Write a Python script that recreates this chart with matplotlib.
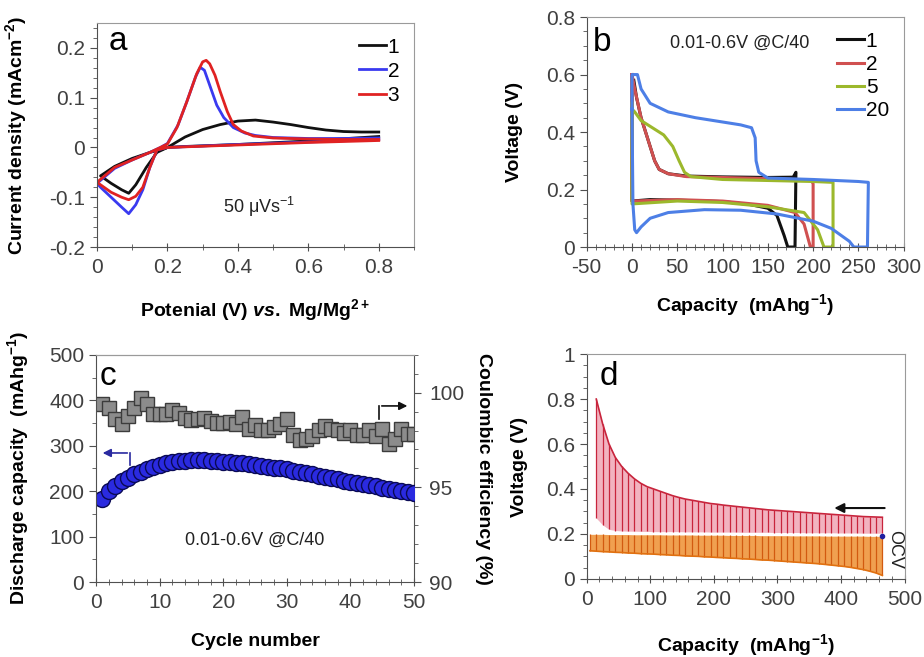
import matplotlib
matplotlib.use("Agg")
import matplotlib.pyplot as plt
from matplotlib.ticker import MultipleLocator

plt.rcParams["font.family"] = ["Liberation Sans", "DejaVu Sans"]
plt.rcParams["axes.unicode_minus"] = False
plt.rcParams["mathtext.fontset"] = "custom"
plt.rcParams["mathtext.rm"] = "Liberation Sans:bold"
plt.rcParams["mathtext.it"] = "Liberation Sans:italic:bold"
plt.rcParams["mathtext.bf"] = "Liberation Sans:bold"
plt.rcParams["mathtext.default"] = "regular"

# ---- panel a : cyclic voltammetry (cathodic sweep 0.8 -> 0, then anodic 0 -> 0.8)
cv1_v = [0.80, 0.60, 0.40, 0.25, 0.20, 0.17, 0.14, 0.11, 0.09, 0.07, 0.04, 0.01,
         0.05, 0.10, 0.15, 0.20, 0.25, 0.30, 0.35, 0.40, 0.45, 0.50, 0.55, 0.60, 0.65, 0.70, 0.75, 0.80]
cv1_i = [0.022, 0.013, 0.006, 0.002, 0.000, -0.010, -0.040, -0.075, -0.092, -0.085, -0.072, -0.057,
         -0.038, -0.022, -0.010, 0.000, 0.021, 0.036, 0.046, 0.053, 0.055, 0.051, 0.046, 0.040, 0.035, 0.032, 0.031, 0.031]
cv2_v = [0.80, 0.60, 0.40, 0.20, 0.17, 0.15, 0.13, 0.11, 0.09, 0.07, 0.04, 0.01, 0.00,
         0.05, 0.10, 0.15, 0.18, 0.20, 0.23, 0.255, 0.28, 0.293, 0.305, 0.32, 0.34, 0.36, 0.387, 0.42, 0.45, 0.50, 0.60, 0.70, 0.80]
cv2_i = [0.016, 0.011, 0.006, 0.000, -0.005, -0.040, -0.085, -0.115, -0.133, -0.120, -0.100, -0.080, -0.072,
         -0.042, -0.025, -0.010, 0.000, 0.008, 0.045, 0.092, 0.142, 0.161, 0.155, 0.125, 0.085, 0.060, 0.040, 0.029, 0.024, 0.020, 0.018, 0.018, 0.019]
cv3_v = [0.80, 0.60, 0.40, 0.20, 0.17, 0.15, 0.13, 0.11, 0.09, 0.07, 0.04, 0.01, 0.00,
         0.05, 0.10, 0.15, 0.18, 0.20, 0.227, 0.255, 0.283, 0.30, 0.31, 0.32, 0.335, 0.35, 0.37, 0.387, 0.41, 0.444, 0.50, 0.60, 0.70, 0.80]
cv3_i = [0.014, 0.010, 0.005, 0.000, -0.005, -0.040, -0.080, -0.098, -0.105, -0.100, -0.090, -0.075, -0.070,
         -0.040, -0.025, -0.010, 0.000, 0.007, 0.040, 0.092, 0.148, 0.172, 0.175, 0.168, 0.145, 0.112, 0.072, 0.046, 0.033, 0.023, 0.019, 0.017, 0.016, 0.016]

# ---- panel b : voltage profiles, cycles 1, 2, 5, 20
gc1_q = [0, 0, 20, 50, 100, 130, 150, 160, 168, 172, 180, 181, 178, 150, 100, 60, 40, 30, 25, 20, 10, 5, 2]
gc1_v = [0.60, 0.16, 0.165, 0.163, 0.158, 0.148, 0.135, 0.11, 0.04, 0.0, 0.0, 0.26, 0.243, 0.242, 0.244, 0.247, 0.255, 0.27, 0.30, 0.35, 0.45, 0.52, 0.58]
gc2_q = [0, 0, 50, 100, 150, 180, 190, 197, 200, 200, 198, 150, 60, 40, 30, 25, 20, 10, 3, 0]
gc2_v = [0.60, 0.16, 0.165, 0.16, 0.145, 0.12, 0.08, 0.0, 0.0, 0.22, 0.233, 0.238, 0.245, 0.255, 0.27, 0.30, 0.35, 0.45, 0.55, 0.60]
gc5_q = [0, 0, 50, 100, 150, 190, 205, 212, 222, 222, 200, 100, 65, 58, 52, 45, 35, 20, 10, 3, 0]
gc5_v = [0.50, 0.15, 0.16, 0.155, 0.14, 0.12, 0.06, 0.0, 0.0, 0.225, 0.228, 0.235, 0.245, 0.26, 0.30, 0.35, 0.39, 0.42, 0.44, 0.47, 0.48]
gc20_q = [0, 1, 3, 5, 10, 20, 40, 80, 120, 160, 200, 220, 240, 245, 260, 261, 250, 200, 150, 140, 137, 136, 132, 120, 100, 70, 40, 20, 10, 6, 0, 0]
gc20_v = [0.48, 0.15, 0.06, 0.05, 0.07, 0.10, 0.12, 0.13, 0.128, 0.115, 0.09, 0.065, 0.02, 0.0, 0.0, 0.225, 0.228, 0.235, 0.24, 0.26, 0.30, 0.38, 0.415, 0.425, 0.435, 0.45, 0.47, 0.50, 0.55, 0.60, 0.60, 0.48]

# ---- panel c : cycling
cycles = list(range(1, 51))
dis_cap = [183, 200, 212, 222, 230, 237, 243, 249, 254, 258, 261, 264, 266, 267, 268, 268, 268, 267, 266, 265,
           264, 263, 262, 260, 258, 256, 254, 252, 250, 248, 245, 243, 240, 237, 234, 231, 228, 226, 223, 221,
           218, 216, 213, 211, 208, 205, 203, 200, 198, 196]
ce = [99.38, 99.17, 98.60, 98.37, 98.76, 99.17, 99.70, 99.38, 98.85, 98.85, 98.90, 99.08, 98.95, 98.65, 98.56,
      98.60, 98.67, 98.49, 98.42, 98.42, 98.46, 98.37, 98.72, 98.10, 98.28, 98.01, 98.01, 98.19, 98.37, 98.60,
      97.75, 97.48, 97.57, 97.71, 98.01, 98.24, 98.10, 98.01, 97.89, 98.01, 97.75, 97.78, 98.01, 97.71, 98.06,
      97.30, 97.57, 98.06, 97.84, 97.84]

# ---- panel d : GITT steps
chg_q = [15, 25, 35, 45, 55, 65, 75, 85, 95, 105, 115, 125, 135, 145, 155, 165, 175, 185, 195, 205, 215, 225,
         235, 245, 255, 265, 275, 285, 295, 305, 315, 325, 335, 345, 355, 365, 375, 385, 395, 405, 415, 425,
         435, 445, 455, 465]
chg_top = [0.80, 0.69, 0.60, 0.54, 0.50, 0.47, 0.445, 0.425, 0.41, 0.40, 0.39, 0.38, 0.37, 0.362, 0.355, 0.35,
           0.345, 0.34, 0.335, 0.332, 0.328, 0.325, 0.322, 0.319, 0.316, 0.313, 0.31, 0.307, 0.305, 0.303, 0.301,
           0.299, 0.297, 0.295, 0.293, 0.291, 0.289, 0.287, 0.285, 0.283, 0.281, 0.279, 0.277, 0.276, 0.275, 0.274]
chg_bot = [0.27, 0.24, 0.22, 0.215, 0.213, 0.212, 0.212, 0.211, 0.211, 0.210, 0.210, 0.210, 0.210, 0.210, 0.209,
           0.209, 0.209, 0.209, 0.208, 0.208, 0.208, 0.208, 0.208, 0.207, 0.207, 0.207, 0.207, 0.207, 0.206, 0.206,
           0.206, 0.206, 0.206, 0.205, 0.205, 0.205, 0.205, 0.205, 0.204, 0.204, 0.204, 0.204, 0.203, 0.203, 0.203, 0.203]
dis_q = [5, 15, 25, 35, 45, 55, 65, 75, 85, 95, 105, 115, 125, 135, 145, 155, 165, 175, 185, 195, 205, 215, 225,
         235, 245, 255, 265, 275, 285, 295, 305, 315, 325, 335, 345, 355, 365, 375, 385, 395, 405, 415, 425, 435,
         445, 455, 465]
dis_top = [0.198, 0.198, 0.198, 0.197, 0.197, 0.197, 0.197, 0.196, 0.196, 0.196, 0.196, 0.196, 0.195, 0.195,
           0.195, 0.195, 0.195, 0.194, 0.194, 0.194, 0.194, 0.194, 0.193, 0.193, 0.193, 0.193, 0.193, 0.192, 0.192,
           0.192, 0.192, 0.192, 0.191, 0.191, 0.191, 0.191, 0.191, 0.190, 0.190, 0.190, 0.190, 0.190, 0.190, 0.190,
           0.189, 0.189, 0.189]
dis_bot = [0.125, 0.123, 0.121, 0.120, 0.118, 0.117, 0.115, 0.114, 0.112, 0.111, 0.110, 0.108, 0.107, 0.105,
           0.104, 0.102, 0.101, 0.100, 0.098, 0.097, 0.095, 0.094, 0.092, 0.091, 0.089, 0.088, 0.086, 0.084, 0.083,
           0.081, 0.079, 0.077, 0.075, 0.073, 0.071, 0.069, 0.067, 0.064, 0.061, 0.058, 0.055, 0.051, 0.046, 0.041,
           0.034, 0.026, 0.015]

TICK_COLOR = "#404040"
TICK_SIZE = 15
LABEL_SIZE = 14


def style_axes(ax):
    for s in ["top", "right"]:
        ax.spines[s].set_color("#9a9a9a")
    for s in ["left", "bottom"]:
        ax.spines[s].set_color("#505050")
    ax.tick_params(axis="x", which="both", direction="inout", colors="#505050", labelcolor=TICK_COLOR,
                   labelsize=TICK_SIZE, top=False)
    ax.tick_params(axis="x", which="major", length=6, pad=5)
    ax.tick_params(axis="x", which="minor", length=4)
    ax.tick_params(axis="y", which="both", direction="out", colors="#505050", labelcolor=TICK_COLOR,
                   labelsize=TICK_SIZE, right=False)
    ax.tick_params(axis="y", which="major", length=5)
    ax.tick_params(axis="y", which="minor", length=3)


fig = plt.figure(figsize=(9.24, 6.57), dpi=100)

# ---------------- a
ax = fig.add_axes([0.105, 0.624, 0.343, 0.341])
ax.plot(cv1_v, cv1_i, color="#111111", lw=2, label="1")
ax.plot(cv2_v, cv2_i, color="#3a3af0", lw=2, label="2")
ax.plot(cv3_v, cv3_i, color="#e02222", lw=2, label="3")
ax.set_xlim(0, 0.9)
ax.set_ylim(-0.2, 0.25)
ax.set_xticks([0, 0.2, 0.4, 0.6, 0.8])
ax.set_xticklabels(["0", "0.2", "0.4", "0.6", "0.8"])
ax.xaxis.set_minor_locator(MultipleLocator(0.1))
ax.set_yticks([-0.2, -0.1, 0, 0.1, 0.2])
ax.set_yticklabels(["-0.2", "-0.1", "0", "0.1", "0.2"])
ax.yaxis.set_minor_locator(MultipleLocator(0.02))
style_axes(ax)
ax.set_xlabel("Potenial (V) $\\mathit{vs.}$ Mg/Mg$^{2+}$", fontsize=LABEL_SIZE, fontweight="bold")
ax.xaxis.set_label_coords(0.5, -0.225)
ax.set_ylabel("Current density (mAcm$^{-2}$)", fontsize=LABEL_SIZE, fontweight="bold")
ax.yaxis.set_label_coords(-0.215, 0.5)
ax.text(0.06, 0.212, "a", fontsize=24, va="center", ha="center")
ax.text(0.46, -0.12, "50 μVs$^{-1}$", fontsize=13, va="center", ha="center", color="#222222")
ax.legend(loc="upper right", frameon=False, fontsize=TICK_SIZE, handlelength=1.3, handletextpad=0.1,
          labelspacing=0.25, borderaxespad=0.3)

# ---------------- b
ax = fig.add_axes([0.635, 0.624, 0.343, 0.350])
ax.plot(gc1_q, gc1_v, color="#111111", lw=2.2, label="1")
ax.plot(gc2_q, gc2_v, color="#d05050", lw=2.2, label="2")
ax.plot(gc5_q, gc5_v, color="#9cb82c", lw=2.2, label="5")
ax.plot(gc20_q, gc20_v, color="#4d7fe6", lw=2.2, label="20")
ax.set_xlim(-50, 300)
ax.set_ylim(0, 0.8)
ax.set_xticks([-50, 0, 50, 100, 150, 200, 250, 300])
ax.xaxis.set_minor_locator(MultipleLocator(10))
ax.set_yticks([0, 0.2, 0.4, 0.6, 0.8])
ax.set_yticklabels(["0", "0.2", "0.4", "0.6", "0.8"])
ax.yaxis.set_minor_locator(MultipleLocator(0.05))
style_axes(ax)
ax.set_xlabel("Capacity  (mAhg$^{-1}$)", fontsize=LABEL_SIZE, fontweight="bold")
ax.xaxis.set_label_coords(0.5, -0.195)
ax.set_ylabel("Voltage (V)", fontsize=LABEL_SIZE, fontweight="bold")
ax.yaxis.set_label_coords(-0.20, 0.5)
ax.text(-33, 0.71, "b", fontsize=24, va="center", ha="center")
ax.text(119, 0.71, "0.01-0.6V @C/40", fontsize=13, va="center", ha="center", color="#222222")
ax.legend(loc="upper right", frameon=False, fontsize=TICK_SIZE, handlelength=1.3, handletextpad=0.1,
          labelspacing=0.2, borderaxespad=0.3, bbox_to_anchor=(1.0, 1.0))

# ---------------- c
ax = fig.add_axes([0.104, 0.114, 0.344, 0.346])
ax2 = ax.twinx()
ax.set_zorder(ax2.get_zorder() + 1)
ax.patch.set_visible(False)
ax2.plot(cycles, ce, ls="none", marker="s", ms=10, mfc="#8c8c8c", mec="#3c3c3c", mew=1)
ax.plot(cycles, dis_cap, ls="none", marker="o", ms=11.5, mfc="#2a2ae0", mec="#0a0a55", mew=1)
ax.set_xlim(0, 50)
ax.set_ylim(0, 500)
ax2.set_ylim(90, 102)
ax.set_xticks([0, 10, 20, 30, 40, 50])
ax.xaxis.set_minor_locator(MultipleLocator(2))
ax.set_yticks([0, 100, 200, 300, 400, 500])
ax.yaxis.set_minor_locator(MultipleLocator(50))
ax2.set_yticks([90, 95, 100])
ax2.yaxis.set_minor_locator(MultipleLocator(1))
style_axes(ax)
ax.spines["right"].set_visible(False)
ax2.spines["right"].set_color("#505050")
ax2.spines["top"].set_color("#9a9a9a")
for s in ["left", "bottom"]:
    ax2.spines[s].set_visible(False)
ax2.tick_params(axis="y", which="both", direction="out", colors="#505050", labelcolor=TICK_COLOR,
                labelsize=TICK_SIZE)
ax2.tick_params(axis="y", which="major", length=5, pad=6)
ax2.tick_params(axis="y", which="minor", length=3)
ax.set_xlabel("Cycle number", fontsize=LABEL_SIZE, fontweight="bold")
ax.xaxis.set_label_coords(0.5, -0.225)
ax.set_ylabel("Discharge capacity  (mAhg$^{-1}$)", fontsize=LABEL_SIZE, fontweight="bold")
ax.yaxis.set_label_coords(-0.204, 0.5)
ax2.set_ylabel("Coulombic efficiency (%)", fontsize=LABEL_SIZE, fontweight="bold", rotation=-90)
ax2.yaxis.set_label_coords(1.245, 0.5)
ax.text(1.9, 452, "c", fontsize=24, va="center", ha="center")
ax.text(25, 93, "0.01-0.6V @C/40", fontsize=13, va="center", ha="center", color="#222222")
ax.annotate("", xy=(0.6, 284), xytext=(5.35, 284),
            arrowprops=dict(arrowstyle="-|>", color="#2a2aa0", lw=1.2, mutation_scale=12))
ax.plot([5.35, 5.35], [258, 284], color="#2a2aa0", lw=1.2)
ax2.annotate("", xy=(49.4, 99.3), xytext=(44.5, 99.3),
             arrowprops=dict(arrowstyle="-|>", color="#111111", lw=1.2, mutation_scale=12))
ax2.plot([44.5, 44.5], [98.63, 99.3], color="#111111", lw=1.2)

# ---------------- d
ax = fig.add_axes([0.635, 0.119, 0.344, 0.342])
ax.fill_between(chg_q, chg_bot, chg_top, color="#f2b3c0", lw=0)
ax.vlines(chg_q, chg_bot, chg_top, color="#c8243c", lw=0.9)
ax.plot(chg_q, chg_top, color="#c8243c", lw=1.2)
ax.fill_between(dis_q, dis_bot, dis_top, color="#f0a050", lw=0)
ax.vlines(dis_q, dis_bot, dis_top, color="#d25a10", lw=0.9)
ax.plot(dis_q, dis_bot, color="#e07010", lw=1.2)
ax.plot([465], [0.19], ls="none", marker="o", ms=3, color="#2020a0")
ax.set_xlim(0, 500)
ax.set_ylim(0, 1)
ax.set_xticks([0, 100, 200, 300, 400, 500])
ax.xaxis.set_minor_locator(MultipleLocator(20))
ax.set_yticks([0, 0.2, 0.4, 0.6, 0.8, 1.0])
ax.set_yticklabels(["0", "0.2", "0.4", "0.6", "0.8", "1"])
ax.yaxis.set_minor_locator(MultipleLocator(0.05))
style_axes(ax)
ax.set_xlabel("Capacity  (mAhg$^{-1}$)", fontsize=LABEL_SIZE, fontweight="bold")
ax.xaxis.set_label_coords(0.5, -0.235)
ax.set_ylabel("Voltage (V)", fontsize=LABEL_SIZE, fontweight="bold")
ax.yaxis.set_label_coords(-0.186, 0.5)
ax.text(35, 0.9, "d", fontsize=24, va="center", ha="center")
ax.annotate("", xy=(385, 0.315), xytext=(473, 0.315),
            arrowprops=dict(arrowstyle="-|>", color="#111111", lw=1.5, mutation_scale=14))
ax.text(484, 0.13, "OCV", fontsize=13, rotation=-90, va="center", ha="center", color="#222222")

plt.savefig("out.png", dpi=100)
